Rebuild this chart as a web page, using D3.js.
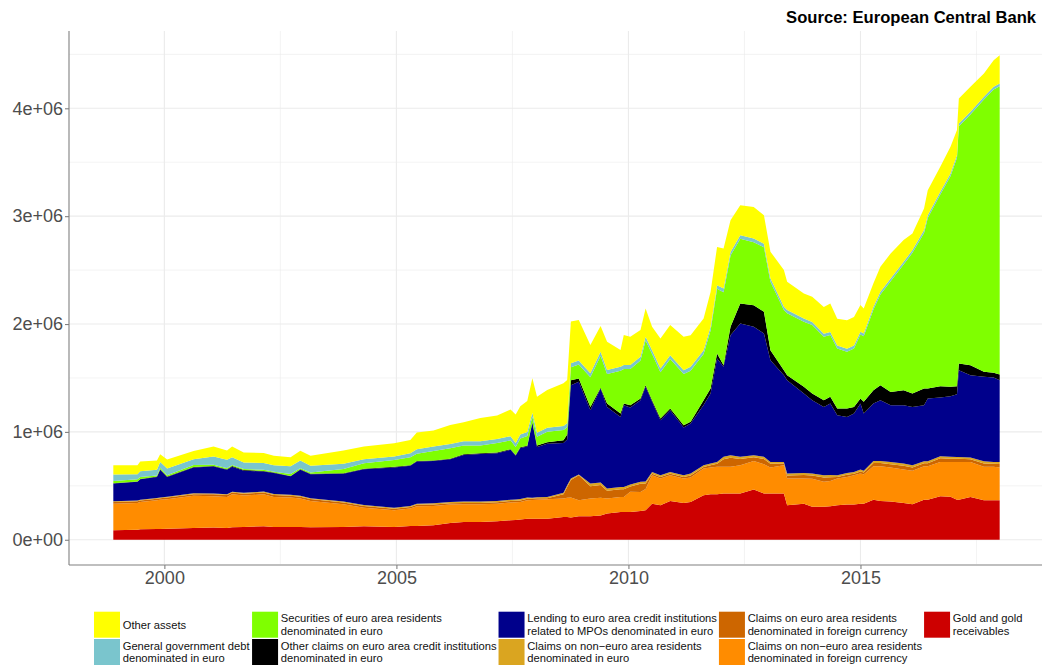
<!DOCTYPE html>
<html>
<head>
<meta charset="utf-8">
<script src="https://cdn.jsdelivr.net/npm/d3@7"></script>
<style>
  body { margin: 0; background: #fff; }
  svg { display: block; font-family: "Liberation Sans", Arial, sans-serif; }
</style>
</head>
<body>
<div id="chart"></div>
<script>
// Eurosystem assets, billions of euro (axis shows millions)
const years = [
  1998.9, 1999.42, 1999.48, 1999.84, 1999.91, 2000.06, 2000.63, 2001.06, 2001.35, 2001.46,
  2001.71, 2002.14, 2002.36, 2002.72, 2002.93, 2003.15, 2003.86, 2004.3, 2004.95, 2005.3,
  2005.44, 2005.8, 2006.16, 2006.45, 2006.81, 2007.17, 2007.46, 2007.57, 2007.67, 2007.82,
  2007.93, 2008.03, 2008.25, 2008.6, 2008.68, 2008.76, 2008.93, 2009.18, 2009.4, 2009.54,
  2009.83, 2009.9, 2010.04, 2010.26, 2010.37, 2010.51, 2010.69, 2010.9, 2011.19, 2011.34,
  2011.62, 2011.77, 2011.91, 2012.05, 2012.2, 2012.41, 2012.7, 2012.92, 2013.06, 2013.35,
  2013.42, 2013.78, 2013.96, 2014.21, 2014.35, 2014.5, 2014.71, 2014.86, 2015.0, 2015.07,
  2015.28, 2015.43, 2015.65, 2015.93, 2016.12, 2016.37, 2016.45, 2016.72, 2016.94, 2017.08,
  2017.12, 2017.37, 2017.66, 2017.87, 2018.0
];

const gold = [
  88, 94, 97, 100, 100, 103, 110, 113, 110, 116, 119, 125, 119, 119, 119, 116, 119, 125, 119, 128,
  128, 134, 156, 165, 165, 172, 181, 183, 187, 196,
  196, 196, 196, 212, 212, 206, 218, 218, 225, 243, 258, 258, 258, 267, 274, 335, 320, 360, 342, 351,
  413, 422, 422, 428, 428, 428, 465, 428, 428, 428, 320, 335, 305, 305, 310, 320, 326, 326, 335, 335,
  372, 360, 355, 342, 329, 372, 372, 403, 400, 372, 372, 397, 366, 366, 366
];

const nonEuroForeign = [
  247, 248, 254, 266, 270, 273, 297, 291, 287, 306, 291, 297, 278, 272, 263, 244, 210, 173, 155, 161,
  182, 180, 170, 164, 164, 163, 164, 164, 164, 170,
  172, 176, 180, 170, 178, 185, 148, 164, 165, 139, 139, 139, 187, 177, 196, 263, 247, 238, 225, 226,
  247, 248, 254, 248, 248, 263, 266, 273, 242, 263, 247, 232, 260, 232, 235, 247, 257, 272, 279, 270,
  310, 322, 315, 309, 310, 310, 310, 319, 322, 350, 350, 325, 310, 310, 303
];

const euroAreaForeign = [
  15, 15, 14, 14, 14, 15, 16, 17, 17, 16, 16, 17, 18, 18, 17, 17, 16, 15, 14, 14,
  14, 13, 13, 13, 13, 13, 14, 14, 14, 14,
  14, 14, 10, 40, 100, 164, 232, 115, 118, 72, 72, 72, 50, 75, 52, 15, 15, 15, 15, 20,
  15, 20, 28, 70, 85, 58, 35, 48, 34, 15, 30, 33, 32, 40, 35, 15, 20, 15, 20, 18,
  30, 30, 30, 35, 32, 28, 28, 33, 30, 28, 28, 24, 32, 28, 33
];

const nonEuroEuro = [
  8, 8, 7, 7, 7, 7, 8, 8, 8, 8, 9, 9, 9, 9, 9, 9, 10, 10, 10, 10,
  11, 11, 11, 12, 12, 12, 12, 12, 12, 12,
  8, 8, 11, 15, 15, 12, 7, 24, 22, 21, 21, 21, 17, 18, 18, 16, 16, 16, 16, 17,
  16, 17, 18, 23, 23, 20, 18, 20, 18, 16, 17, 20, 18, 21, 20, 16, 17, 16, 17, 17,
  19, 19, 20, 21, 20, 18, 18, 20, 18, 18, 18, 16, 20, 18, 20
];

const lendingMPO = [
  164, 172, 188, 195, 259, 185, 240, 250, 226, 232, 206, 185, 195, 170, 241, 222, 257, 331, 373, 374,
  390, 392, 396, 433, 442, 442, 463, 406, 473, 473,
  695, 466, 493, 461, 425, 866, 859, 680, 872, 757, 649, 758, 714, 757, 878, 650, 510, 572, 442, 463,
  559, 649, 959, 834, 1113, 1236, 1190, 1143, 943, 804, 866, 736, 679, 634, 663, 557, 519, 541, 612, 530,
  532, 563, 528, 541, 541, 520, 581, 544, 561, 582, 804, 764, 783, 782, 758
];

const otherClaims = [
  3, 3, 3, 4, 4, 4, 4, 5, 5, 5, 5, 5, 4, 4, 4, 4, 4, 4, 5, 5,
  5, 5, 5, 6, 6, 6, 6, 6, 7, 7,
  5, 15, 15, 25, 45, 47, 31, 31, 8, 31, 31, 15, 22, 16, 15, 15, 16, 16, 22, 16,
  44, 46, 46, 16, 77, 186, 201, 201, 93, 46, 46, 62, 62, 62, 62, 62, 78, 62, 47, 109,
  124, 139, 123, 139, 124, 154, 93, 105, 87, 74, 62, 93, 46, 44, 52
];

const securities = [
  21, 21, 18, 11, 14, 11, 18, 11, 11, 11, 9, 12, 8, 17, 11, 12, 39, 51, 64, 73,
  68, 89, 98, 81, 72, 88, 82, 75, 81, 89,
  50, 81, 97, 95, 68, 119, 129, 274, 297, 274, 398, 321, 336, 351, 414, 429, 429, 459, 475, 475,
  429, 537, 599, 676, 661, 599, 584, 599, 635, 558, 573, 604, 635, 588, 573, 557, 526, 542, 592, 607,
  747, 840, 1026, 1164, 1304, 1443, 1582, 1777, 1953, 2117, 2200, 2324, 2525, 2627, 2673
];

const govDebt = [
  59, 47, 55, 53, 53, 62, 53, 77, 77, 71, 62, 61, 59, 72, 71, 62, 49, 38, 31, 37,
  42, 40, 40, 39, 39, 38, 38, 38, 37, 37,
  37, 37, 37, 37, 37, 37, 37, 37, 37, 36, 36, 36, 36, 36, 36, 35, 35, 35, 35, 35,
  34, 34, 34, 34, 33, 33, 33, 33, 31, 30, 30, 30, 29, 29, 29, 28, 28, 28, 27, 27,
  27, 26, 26, 26, 26, 26, 25, 25, 25, 25, 25, 24, 24, 24, 24
];

const otherAssets = [
  86, 83, 90, 86, 71, 84, 77, 93, 87, 99, 92, 93, 89, 83, 90, 92, 124, 117, 124, 124,
  155, 149, 176, 176, 216, 217, 247, 263, 263, 288,
  320, 334, 350, 396, 402, 387, 377, 263, 238, 263, 155, 278, 263, 247, 262, 216, 278, 279, 310, 294,
  294, 325, 355, 371, 294, 278, 293, 263, 247, 340, 263, 231, 232, 248, 263, 248, 263, 263, 247, 232,
  216, 232, 231, 201, 154, 201, 232, 231, 247, 232, 232, 232, 216, 247, 263
];

// bottom to top
const series = [
  {key: "gold", values: gold, color: "#CD0000", label: "Gold and gold\nreceivables"},
  {key: "nonEuroForeign", values: nonEuroForeign, color: "#FF8C00", label: "Claims on non\u2212euro area residents\ndenominated in foreign currency"},
  {key: "euroAreaForeign", values: euroAreaForeign, color: "#CD6600", label: "Claims on euro area residents\ndenominated in foreign currency"},
  {key: "nonEuroEuro", values: nonEuroEuro, color: "#DAA520", label: "Claims on non\u2212euro area residents\ndenominated in euro"},
  {key: "lendingMPO", values: lendingMPO, color: "#00008B", label: "Lending to euro area credit institutions\nrelated to MPOs denominated in euro"},
  {key: "otherClaims", values: otherClaims, color: "#000000", label: "Other claims on euro area credit institutions\ndenominated in euro"},
  {key: "securities", values: securities, color: "#7FFF00", label: "Securities of euro area residents\ndenominated in euro"},
  {key: "govDebt", values: govDebt, color: "#7AC5CD", label: "General government debt\ndenominated in euro"},
  {key: "otherAssets", values: otherAssets, color: "#FFFF00", label: "Other assets"}
];

const width = 1042, height = 665;
const panel = {left: 69, right: 1044, top: 31, bottom: 564};

const table = years.map((t, i) => {
  const row = {t: t};
  series.forEach(s => { row[s.key] = s.values[i] * 1e3; });
  return row;
});

const stacked = d3.stack().keys(series.map(s => s.key))(table);
const yMax = d3.max(stacked[stacked.length - 1], d => d[1]);

const tExt = d3.extent(years);
const tPad = (tExt[1] - tExt[0]) * 0.05;
const x = d3.scaleLinear().domain([tExt[0] - tPad, tExt[1] + tPad]).range([panel.left, panel.right]);
const y = d3.scaleLinear().domain([-yMax * 0.05, yMax * 1.05]).range([panel.bottom, panel.top]);

const svg = d3.select("#chart").append("svg")
    .attr("width", width)
    .attr("height", height);

// grid
const grid = svg.append("g");
[2002.5, 2007.5, 2012.5, 2017.5].forEach(v => {
  grid.append("line").attr("x1", x(v)).attr("x2", x(v)).attr("y1", panel.top).attr("y2", panel.bottom)
    .attr("stroke", "#ebebeb").attr("stroke-width", 0.6);
});
d3.range(0.5e6, 5e6, 1e6).forEach(v => {
  grid.append("line").attr("x1", panel.left).attr("x2", width).attr("y1", y(v)).attr("y2", y(v))
    .attr("stroke", "#ebebeb").attr("stroke-width", 0.6);
});
[2000, 2005, 2010, 2015].forEach(v => {
  grid.append("line").attr("x1", x(v)).attr("x2", x(v)).attr("y1", panel.top).attr("y2", panel.bottom)
    .attr("stroke", "#ebebeb").attr("stroke-width", 1.1);
});
d3.range(0, 5e6, 1e6).forEach(v => {
  grid.append("line").attr("x1", panel.left).attr("x2", width).attr("y1", y(v)).attr("y2", y(v))
    .attr("stroke", "#ebebeb").attr("stroke-width", 1.1);
});

// areas
const area = d3.area()
    .x(d => x(d.data.t))
    .y0(d => y(d[0]))
    .y1(d => y(d[1]));

svg.append("g").selectAll("path")
  .data(stacked)
  .enter().append("path")
    .attr("d", area)
    .attr("fill", (d, i) => series[i].color);

// axes
const fmt = v => v === 0 ? "0e+00" : (v / 1e6) + "e+06";

const yAxis = svg.append("g")
    .attr("transform", `translate(${panel.left},0)`)
    .call(d3.axisLeft(y).tickValues([0, 1e6, 2e6, 3e6, 4e6]).tickFormat(fmt).tickSize(4).tickSizeOuter(0).tickPadding(2));

const xAxis = svg.append("g")
    .attr("transform", `translate(0,${panel.bottom + 1})`)
    .call(d3.axisBottom(x).tickValues([2000, 2005, 2010, 2015]).tickFormat(d3.format("d")).tickSize(4).tickSizeOuter(0).tickPadding(2));

[yAxis, xAxis].forEach(a => {
  a.select(".domain").attr("stroke", "#808080").attr("stroke-width", 1.1);
  a.selectAll(".tick line").attr("stroke", "#808080").attr("stroke-width", 1.1);
  a.selectAll(".tick text").attr("fill", "#4d4d4d").style("font-size", "18px").style("font-family", "\"Liberation Sans\", Arial, sans-serif");
});
yAxis.select(".domain").attr("d", `M0,${panel.top}V${panel.bottom + 1}`);
xAxis.select(".domain").attr("d", `M${panel.left},0H${width}`);

// source
svg.append("text")
    .attr("x", 1036)
    .attr("y", 23)
    .attr("text-anchor", "end")
    .style("font-size", "16.6px")
    .style("font-weight", "bold")
    .attr("fill", "#000")
    .text("Source: European Central Bank");

// legend: 2 rows, column-major, top of stack first
const legendItems = series.slice().reverse();
const legend = svg.append("g");
const keySize = 26, rowY = [611.7, 639], textGap = 2.7, colGap = 1.6;
let colX = 94;
for (let c = 0; c < Math.ceil(legendItems.length / 2); c++) {
  let maxW = 0;
  for (let r = 0; r < 2; r++) {
    const item = legendItems[c * 2 + r];
    if (!item) continue;
    legend.append("rect")
        .attr("x", colX).attr("y", rowY[r])
        .attr("width", keySize).attr("height", keySize)
        .attr("fill", item.color);
    const lines = item.label.split("\n");
    const cy = rowY[r] + keySize / 2;
    const t = legend.append("text")
        .attr("x", colX + keySize + textGap)
        .attr("y", cy - (lines.length - 1) * 6.2)
        .style("font-size", "11.2px")
        .attr("fill", "#111");
    lines.forEach((ln, j) => {
      t.append("tspan")
          .attr("x", colX + keySize + textGap)
          .attr("dy", j === 0 ? "0.35em" : "12.4px")
          .text(ln);
    });
    maxW = Math.max(maxW, t.node().getBBox().width);
  }
  colX += keySize + textGap + maxW + colGap;
}
</script>
</body>
</html>
